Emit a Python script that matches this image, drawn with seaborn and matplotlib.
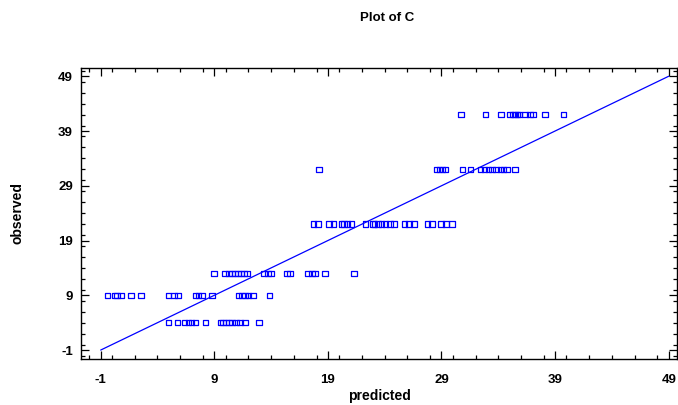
"""
Observed vs predicted plot for C.
"""
import matplotlib
matplotlib.use("Agg")
import matplotlib.pyplot as plt
import seaborn as sns
import pandas as pd
from matplotlib.ticker import MultipleLocator

# predicted values, grouped by observed level
pred_4 = [4.96, 5.75, 6.37, 6.72, 6.98, 7.33, 8.21, 9.53, 9.79, 10.05,
          10.32, 10.58, 10.93, 11.28, 11.72, 12.95]
pred_9 = [-0.41, 0.25, 0.46, 0.78, 1.66, 2.54, 4.99, 5.46, 5.82, 7.33,
          7.62, 7.92, 8.82, 11.13, 11.43, 11.72, 12.01, 12.39, 13.85]
pred_13 = [9.0, 9.96, 10.32, 10.58, 10.84, 11.1, 11.37, 11.63, 11.89, 13.39,
           13.74, 14.0, 15.4, 15.67, 17.25, 17.6, 17.86, 18.74, 21.28]
pred_22 = [17.75, 18.15, 19.11, 19.5, 20.2, 20.43, 20.73, 21.08, 22.33, 22.95,
           23.12, 23.41, 23.71, 24.09, 24.46, 24.82, 25.75, 26.13, 26.57,
           27.75, 28.18, 28.97, 29.41, 29.94]
pred_32 = [18.21, 28.56, 28.82, 29.09, 29.35, 30.84, 31.54, 32.42, 32.77,
           33.12, 33.47, 33.82, 34.18, 34.44, 34.79, 35.49]
pred_42 = [30.73, 32.86, 34.24, 35.05, 35.29, 35.49, 35.69, 35.87, 36.37,
           36.81, 37.04, 38.12, 39.73]
levels = {4: pred_4, 9: pred_9, 13: pred_13, 22: pred_22, 32: pred_32, 42: pred_42}

diag = [-1, 49]
tick_values = [-1, 9, 19, 29, 39, 49]

rows = [(p, obs) for obs, preds in levels.items() for p in preds]
df = pd.DataFrame(rows, columns=["predicted", "observed"])

sns.set_style("ticks")
plt.rcParams["font.family"] = ["Liberation Sans", "DejaVu Sans"]
plt.rcParams["axes.unicode_minus"] = False
plt.rcParams["text.color"] = "black"
plt.rcParams["axes.labelcolor"] = "black"

fig = plt.figure(figsize=(6.78, 4.05), dpi=100)
ax = fig.add_axes([0.12, 0.114, 0.878, 0.718])

sns.lineplot(x=diag, y=diag, ax=ax, color="#0000ff", linewidth=0.9)
sns.scatterplot(data=df, x="predicted", y="observed", ax=ax, marker="s",
                s=16, facecolor="none", edgecolor="#0000ff", linewidth=0.9)

ax.set_xlim(-2.7, 49.7)
ax.set_ylim(-2.6, 50.5)
ax.set_xticks(tick_values)
ax.set_yticks(tick_values)
ax.xaxis.set_minor_locator(MultipleLocator(2))
ax.yaxis.set_minor_locator(MultipleLocator(2))
ax.tick_params(which="both", direction="in", top=True, right=True,
               colors="black", labelsize=9.5, width=0.9)
ax.tick_params(which="major", length=6)
ax.tick_params(which="minor", length=3)
ax.tick_params(axis="x", which="major", pad=11)
ax.tick_params(axis="y", which="major", pad=6)
for lbl in ax.get_xticklabels() + ax.get_yticklabels():
    lbl.set_fontweight("bold")
for sp in ax.spines.values():
    sp.set_linewidth(1.0)
    sp.set_color("black")

ax.set_xlabel("predicted", fontsize=10, fontweight="bold", labelpad=2)
ax.set_ylabel("observed", fontsize=10, fontweight="bold", labelpad=24)
fig.text(0.571, 0.955, "Plot of C", ha="center", va="center",
         fontsize=9.5, fontweight="bold")

fig.savefig("out.png", dpi=100)
